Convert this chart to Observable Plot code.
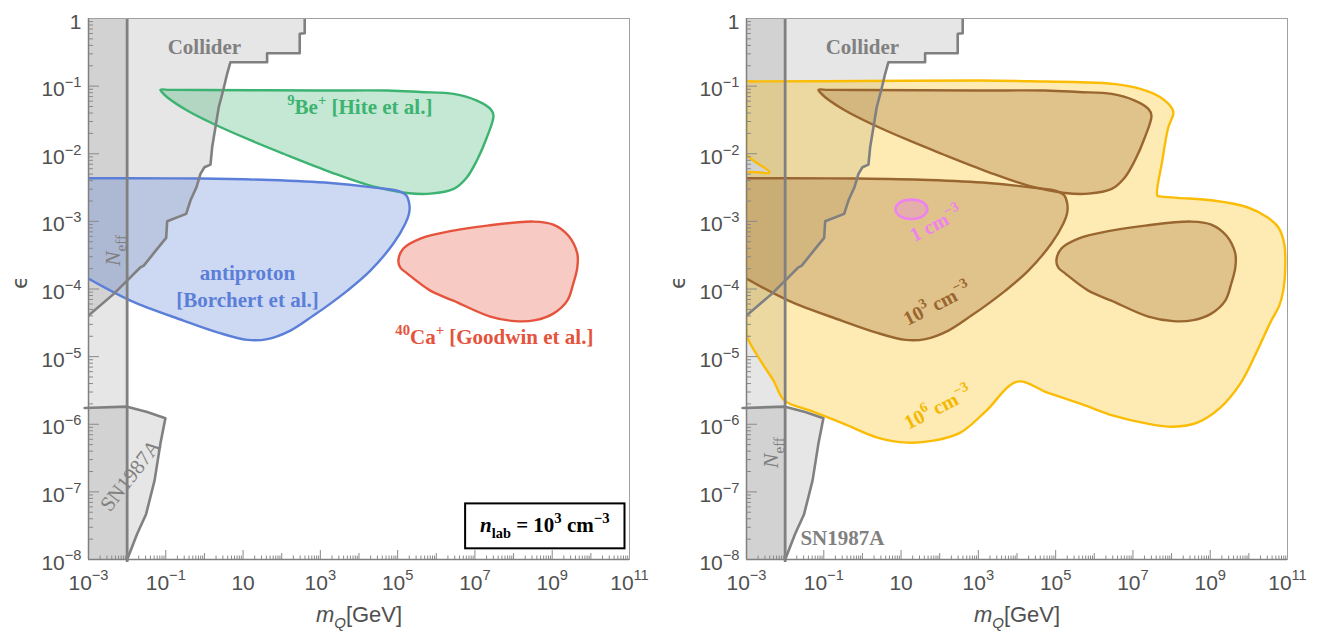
<!DOCTYPE html>
<html><head><meta charset="utf-8">
<script src="https://cdn.jsdelivr.net/npm/d3@7"></script>
<script src="https://cdn.jsdelivr.net/npm/@observablehq/plot@0.6"></script>
<style>
body{margin:0;background:#fff;}
#wrap{display:flex;width:1317px;height:631px;overflow:hidden;}
svg{display:block;}
</style></head><body><div id="wrap"></div>
<script>
// ---------- DATA (log10 of m_Q [GeV] and log10 of epsilon) ----------
const colliderLogX = [2.595,2.595,2.466,2.466,1.622,1.622,0.673,0.588,0.484,0.370,0.285,0.200,0.156,0.0,-0.103,-0.207,-0.362,-0.473,-0.964,-0.990,-1.223,-1.570,-1.655,-1.999,-2.346,-3.0];
const colliderLogY = [0,-0.217,-0.226,-0.513,-0.513,-0.646,-0.646,-0.818,-1.065,-1.312,-1.608,-1.904,-2.160,-2.200,-2.297,-2.496,-2.692,-2.889,-2.999,-3.244,-3.407,-3.654,-3.679,-3.876,-4.072,-4.393];

const snLogX = [-3.1,-2.0,-1.48,-1.01,-1.14,-1.29,-1.51,-1.74,-2.0];
const snLogY = [-5.76,-5.74,-5.82,-5.91,-6.29,-6.83,-7.33,-7.62,-8.0];

const neffMass = 1e-2;

const beLogX = [-1.138,-0.9,-0.103,3.0,4.73,5.59,6.45,7.05,7.40,7.48,7.31,7.05,6.79,6.45,5.85,5.24,4.29,3.26,2.05,1.19,0.24,-0.447,-0.964,-1.08];
const beLogY = [-1.055,-1.055,-1.057,-1.065,-1.065,-1.087,-1.114,-1.213,-1.336,-1.435,-1.756,-2.10,-2.35,-2.52,-2.59,-2.58,-2.47,-2.27,-2.00,-1.80,-1.56,-1.36,-1.164,-1.10];

const pbarLogX = [-3.3,-3.15,-2.0,-0.103,1.708,3.26,4.294,5.07,5.226,5.30,5.30,5.2,4.89,4.294,3.70,3.26,2.82,2.225,1.63,1.113,0.337,-0.543,-1.914,-3.15,-3.3];
const pbarLogY = [-2.362,-2.362,-2.362,-2.367,-2.389,-2.433,-2.493,-2.559,-2.618,-2.737,-2.870,-3.033,-3.328,-3.728,-4.024,-4.216,-4.393,-4.615,-4.741,-4.753,-4.641,-4.467,-4.172,-3.80,-3.75];

const caLogX = [5.019,5.148,5.588,6.441,7.321,8.511,9.028,9.416,9.649,9.649,9.545,9.390,9.028,8.562,8.045,7.398,6.441,5.846,5.252,5.070];
const caLogY = [-3.580,-3.402,-3.254,-3.136,-3.062,-3.003,-3.047,-3.210,-3.476,-3.683,-3.920,-4.172,-4.364,-4.460,-4.475,-4.408,-4.172,-4.024,-3.772,-3.683];

const n6LogX = [-3.0,-2.85,0.0,3.053,4.346,5.639,6.493,7.191,7.709,8.019,8.045,7.916,7.760,7.631,7.7,8.148,9.080,9.959,10.477,10.761,10.916,10.942,10.890,10.787,10.554,10.218,9.778,9.261,8.666,8.045,7.373,6.493,5.639,4.786,4.010,3.182,2.535,1.837,1.164,0.388,-0.491,-1.345,-2.017,-2.302,-2.638,-2.974,-3.0,-3.0,-3.0,-3.0,-2.405,-3.0,-3.0,-3.0];
const n6LogY = [-0.932,-0.931,-0.925,-0.917,-0.928,-0.942,-0.966,-1.040,-1.164,-1.336,-1.410,-1.608,-2.101,-2.618,-2.63,-2.652,-2.692,-2.791,-2.939,-3.087,-3.333,-3.679,-4.024,-4.246,-4.497,-4.911,-5.399,-5.754,-5.976,-6.036,-5.991,-5.873,-5.695,-5.533,-5.370,-5.814,-6.124,-6.243,-6.272,-6.198,-5.991,-5.799,-5.651,-5.355,-5.059,-4.719,-4.571,-4.45,-2.40,-2.278,-2.278,-2.012,-1.90,-1.05];

const n1LogX = [0.854,0.973,1.268,1.563,1.682,1.563,1.268,0.973];
const n1LogY = [-2.821,-2.719,-2.678,-2.719,-2.821,-2.923,-2.964,-2.923];

// tick values and labels
const xLabelExps = [-3,-1,1,3,5,7,9,11];
const xTickLabels = ["10^{−3}","10^{−1}","10","10^{3}","10^{5}","10^{7}","10^{9}","10^{11}"];
const xOtherExps = [-2,0,2,4,6,8,10];
const yExps = [-8,-7,-6,-5,-4,-3,-2,-1,0];
const yTickLabels = ["10^{−8}","10^{−7}","10^{−6}","10^{−5}","10^{−4}","10^{−3}","10^{−2}","10^{−1}","1"];

// annotation labels (text, anchor in data units)
const leftLabels = ["Collider","^{9}Be^{+} [Hite et al.]","antiproton","[Borchert et al.]","^{40}Ca^{+} [Goodwin et al.]"];
const leftLabelX = [1, 1.05e4, 13, 13, 3.18e7];
const leftLabelY = [0.372, 0.0482, 1.69e-4, 6.7e-5, 1.91e-5];
const neffLabel = "*{N}_{eff}";
const snLabel = "SN1987A";
const boxLabel = "*{n}_{lab} = 10^{3} cm^{−3}";
const densLabels = ["1 cm^{−3}","10^{3} cm^{−3}","10^{6} cm^{−3}"];
const densLabelX = [80, 85.5, 90];
const densLabelY = [9.18e-4, 6.02e-5, 1.76e-6];

// ---------- helpers ----------
const pts = (lx, ly) => lx.map((v, i) => ({x: 10 ** v, y: 10 ** ly[i]}));
const collider = pts(colliderLogX, colliderLogY);
const colliderFill = [...collider, {x: 1e-3, y: 1}];
const sn = pts(snLogX, snLogY);
const snFill = [...sn, {x: 10 ** -3.1, y: 1e-8}];
const be = pts(beLogX, beLogY);
const pbar = pts(pbarLogX, pbarLogY);
const ca = pts(caLogX, caLogY);
const n6 = pts(n6LogX, n6LogY);
const n1 = pts(n1LogX, n1LogY);

const xLabelVals = xLabelExps.map(e => 10 ** e);
const xOtherVals = xOtherExps.map(e => 10 ** e);
const xMinor = [];
for (let e = -3; e < 11; e++) for (let k = 2; k <= 9; k++) xMinor.push(k * 10 ** e);
const yVals = yExps.map(e => 10 ** e);
const yMinor = [];
for (let e = -8; e < 0; e++) for (let k = 2; k <= 9; k++) yMinor.push(k * 10 ** e);

const FW = 541;
const GRAY = "#808080";
const SERIF = "Liberation Serif, Times New Roman, serif";
const SANS = "Liberation Sans, Arial, sans-serif";

function region(data, {fill, stroke, op = 0.3, curve = "catmull-rom-closed", sw = 2.4}) {
  return Plot.line(data, {x: "x", y: "y", curve, fill, fillOpacity: op, stroke, strokeWidth: sw, clip: true});
}

function baseMarks() {
  return [
    Plot.line(colliderFill, {x: "x", y: "y", curve: "linear-closed", fill: GRAY, fillOpacity: 0.2, stroke: "none", clip: true}),
    Plot.rect([neffMass], {x1: 1e-3, x2: d => d, y1: 1e-8, y2: 1, fill: GRAY, fillOpacity: 0.2}),
    Plot.line(snFill, {x: "x", y: "y", curve: "linear-closed", fill: GRAY, fillOpacity: 0.2, stroke: "none", clip: true})
  ];
}
function grayLines() {
  return [
    Plot.line(collider, {x: "x", y: "y", stroke: GRAY, strokeWidth: 2.6, clip: true}),
    Plot.line(sn, {x: "x", y: "y", stroke: GRAY, strokeWidth: 2.6}),
    Plot.ruleX([neffMass], {stroke: GRAY, strokeWidth: 2.8, insetBottom: -3})
  ];
}
function axisMarks() {
  const tk = {stroke: "#8a8a8a", strokeWidth: 1};
  const tl = {fontSize: 21, fontFamily: SANS, fill: "#505050"};
  return [
    Plot.ruleX(xMinor, {x: d => d, insetTop: FW - 3.5, ...tk}),
    Plot.ruleX(xOtherVals, {x: d => d, insetTop: FW - 6, ...tk}),
    Plot.ruleX(xLabelVals, {x: d => d, insetTop: FW - 9, ...tk}),
    Plot.ruleY(yMinor, {y: d => d, insetRight: FW - 5, ...tk}),
    Plot.ruleY(yVals, {y: d => d, insetRight: FW - 11, ...tk}),
    Plot.frame({stroke: "#a0a0a0", strokeWidth: 1}),
    Plot.ruleX([1e-3], {stroke: GRAY, strokeWidth: 1.5}),
    Plot.ruleY([1e-8], {stroke: GRAY, strokeWidth: 1.5}),
    Plot.text(xLabelVals, {x: d => d, text: (d, i) => xTickLabels[i], frameAnchor: "bottom", lineAnchor: "bottom", dy: 30, ...tl}),
    Plot.text(yVals, {y: d => d, text: (d, i) => yTickLabels[i], frameAnchor: "left", textAnchor: "end", dx: -7, lineAnchor: "bottom", dy: 10, ...tl}),
    Plot.text(["*{m}%{Q}[GeV]"], {text: d => d, frameAnchor: "bottom", lineAnchor: "bottom", dy: 62, fontSize: 22, fontFamily: SANS, fill: "#505050"}),
    Plot.text(["ϵ"], {text: d => d, frameAnchor: "left", dx: -68, rotate: -90, fontSize: 21, fontFamily: "DejaVu Sans, sans-serif", fill: "#505050"})
  ];
}
const lbl = {fontFamily: SERIF, fontWeight: "bold", fontSize: 21};

function makePlot(width, marks) {
  return Plot.plot({
    width, height: 631,
    marginLeft: 88, marginRight: width - 88 - FW, marginTop: 18, marginBottom: 631 - 18 - FW,
    x: {type: "log", domain: [1e-3, 1e11], axis: null},
    y: {type: "log", domain: [1e-8, 1], axis: null},
    style: {background: "white", overflow: "visible"},
    marks
  });
}

// ---------- left panel ----------
const GREEN = "#3cb371", BLUE = "#5b7fd8", RED = "#e5533c";
const left = makePlot(658, [
  ...baseMarks(),
  region(be, {fill: GREEN, stroke: GREEN}),
  region(pbar, {fill: BLUE, stroke: BLUE}),
  region(ca, {fill: RED, stroke: RED}),
  ...grayLines(),
  ...axisMarks(),
  Plot.text(leftLabels, {x: (d, i) => leftLabelX[i], y: (d, i) => leftLabelY[i], text: d => d, ...lbl,
    fill: (d, i) => [GRAY, GREEN, BLUE, BLUE, RED][i]}),
  Plot.text([neffLabel], {x: 4.18e-3, y: 3.7e-4, text: d => d, rotate: -90, fontFamily: SERIF, fontSize: 22, fill: GRAY}),
  Plot.text([snLabel], {x: 0.0122, y: 1.74e-7, text: d => d, rotate: -52, fontFamily: SERIF, fontSize: 21, fill: GRAY}),
  Plot.text([boxLabel], {x: 6.43e8, y: 3.16e-8, text: d => d, ...lbl, fill: "black"})
]);

// ---------- right panel ----------
const YEL = "#fbbc05", BROWN = "#9a6630", PINK = "#ee82ee";
const right = makePlot(659, [
  ...baseMarks(),
  region(n6, {fill: YEL, stroke: YEL, op: 0.3}),
  region(be, {fill: BROWN, stroke: BROWN}),
  region(pbar, {fill: BROWN, stroke: BROWN}),
  region(ca, {fill: BROWN, stroke: BROWN}),
  region(n1, {fill: PINK, stroke: PINK, op: 0.3, sw: 2.6}),
  ...grayLines(),
  ...axisMarks(),
  Plot.text(["Collider"], {x: 1, y: 0.372, text: d => d, ...lbl, fill: GRAY}),
  Plot.text([neffLabel], {x: 4.18e-3, y: 3.8e-7, text: d => d, rotate: -90, fontFamily: SERIF, fontSize: 22, fill: GRAY}),
  Plot.text([snLabel], {x: 0.304, y: 2.03e-8, text: d => d, ...lbl, fill: GRAY}),
  Plot.text(densLabels, {x: (d, i) => densLabelX[i], y: (d, i) => densLabelY[i], text: d => d, rotate: -27, ...lbl, fontSize: 20,
    fill: (d, i) => [PINK, BROWN, "#f5b800"][i]})
]);

const wrap = document.getElementById("wrap");
wrap.appendChild(left);
wrap.appendChild(right);

// ---------- rich text: ^{sup} _{sub} *{italic} %{italic sub} ----------
function richText(root) {
  root.querySelectorAll("text").forEach(t => {
    const s = t.textContent;
    if (!/[\^_*%]\{/.test(s)) return;
    const fs = parseFloat(getComputedStyle(t).fontSize) || 16;
    while (t.firstChild) t.removeChild(t.firstChild);
    const re = /([\^_*%])\{([^}]*)\}|([^\^_*%]+)|([\^_*%])/g;
    let m, shift = 0;
    while ((m = re.exec(s))) {
      const ts = document.createElementNS("http://www.w3.org/2000/svg", "tspan");
      let target = 0, size = null, italic = false, txt;
      if (m[1] === "^") { target = -0.43 * fs; size = 0.7 * fs; txt = m[2]; }
      else if (m[1] === "_") { target = 0.28 * fs; size = 0.68 * fs; txt = m[2]; }
      else if (m[1] === "%") { target = 0.28 * fs; size = 0.68 * fs; italic = true; txt = m[2]; }
      else if (m[1] === "*") { italic = true; txt = m[2]; }
      else txt = m[3] || m[4];
      const dy = target - shift;
      if (dy) ts.setAttribute("dy", dy.toFixed(2));
      shift = target;
      if (size) ts.setAttribute("font-size", size.toFixed(1));
      if (italic) ts.setAttribute("font-style", "italic");
      ts.textContent = txt;
      t.appendChild(ts);
    }
  });
}
richText(left);
richText(right);

// box around the density annotation
left.querySelectorAll("text").forEach(t => {
  if (!t.textContent.includes("lab")) return;
  const bb = t.getBBox();
  const r = document.createElementNS("http://www.w3.org/2000/svg", "rect");
  r.setAttribute("x", bb.x - 15);
  r.setAttribute("y", bb.y - 7);
  r.setAttribute("width", bb.width + 30);
  r.setAttribute("height", bb.height + 14);
  r.setAttribute("fill", "white");
  r.setAttribute("stroke", "black");
  r.setAttribute("stroke-width", 2);
  if (t.getAttribute("transform")) r.setAttribute("transform", t.getAttribute("transform"));
  t.parentNode.insertBefore(r, t);
});
</script></body></html>
